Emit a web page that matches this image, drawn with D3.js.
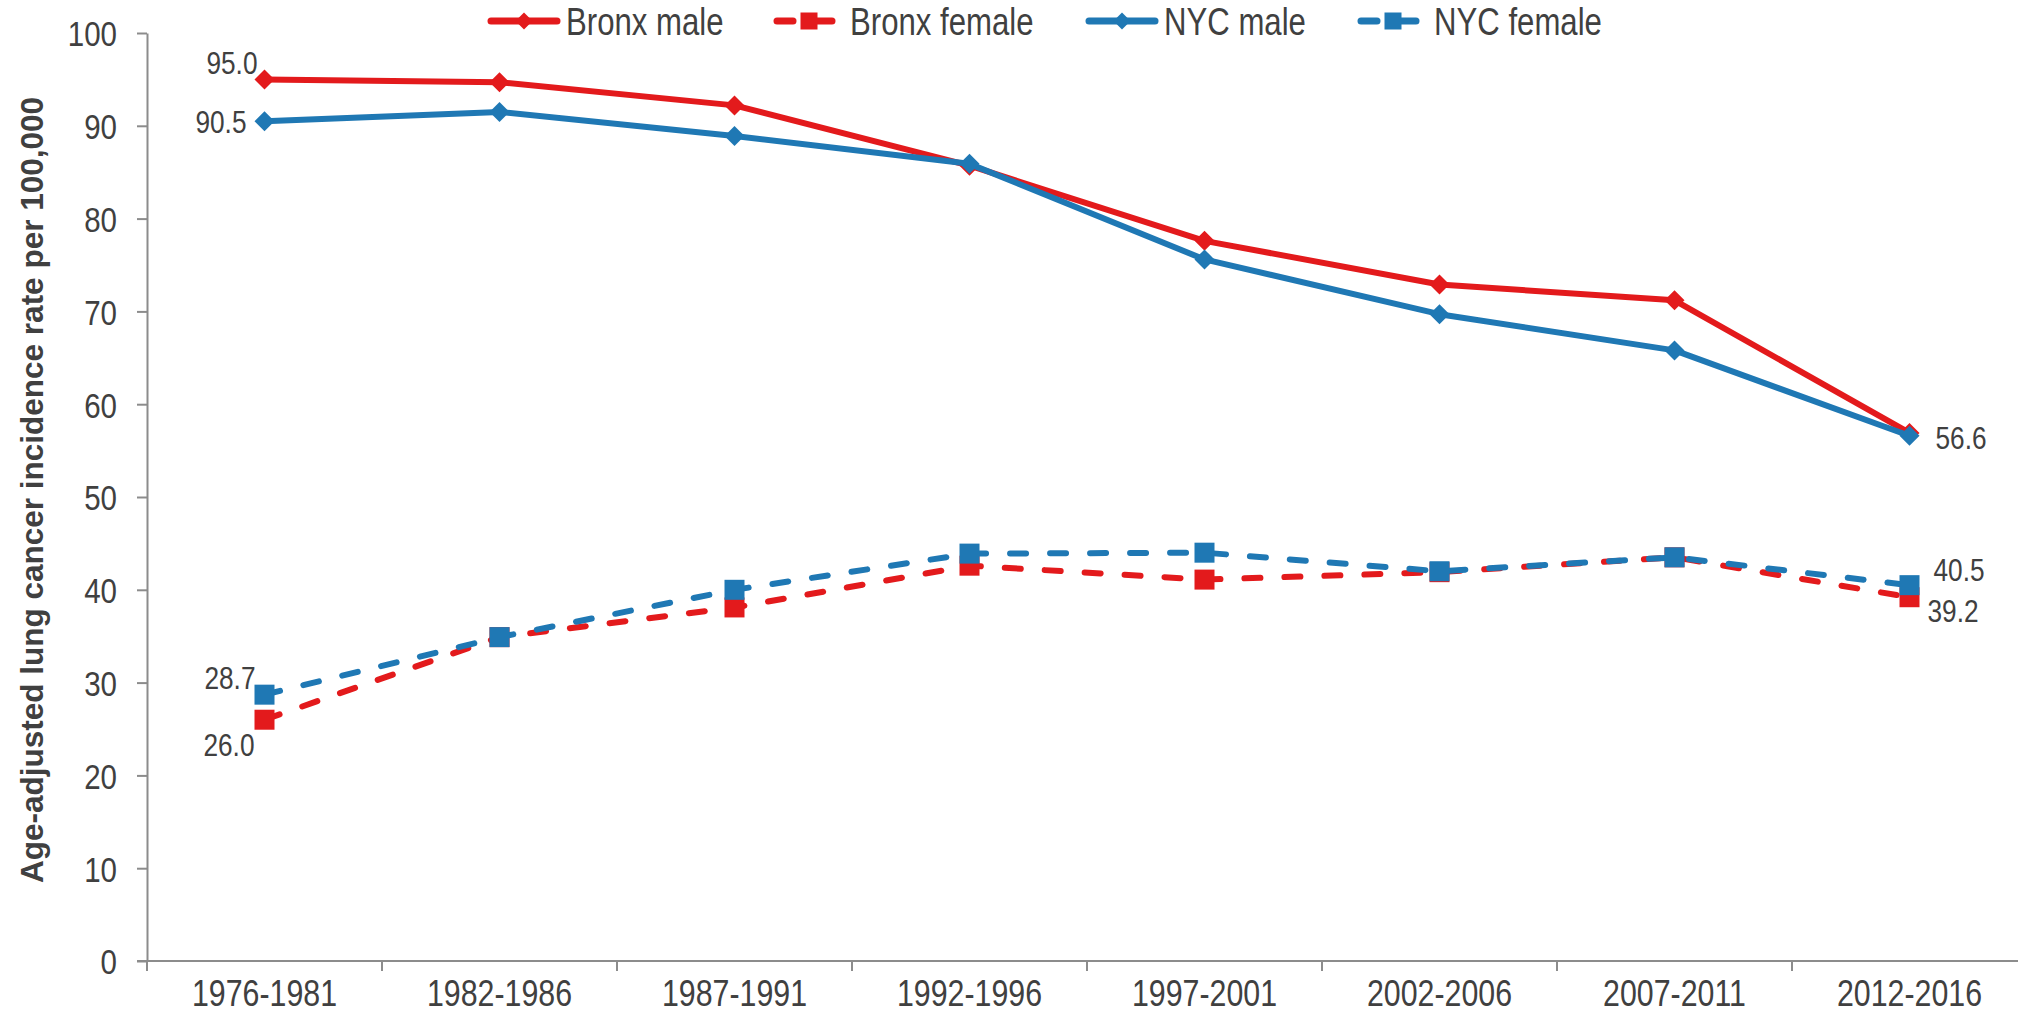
<!DOCTYPE html>
<html>
<head>
<meta charset="utf-8">
<script src="https://cdn.jsdelivr.net/npm/d3@7"></script>
<style>
  body { margin: 0; background: #fff; }
  svg { display: block; font-family: "Liberation Sans", Arial, sans-serif; }
  .axis path, .axis line { stroke: #8c8c8c; stroke-width: 2px; }
  .axis text { fill: #404040; font-family: "Liberation Sans", Arial, sans-serif; }
</style>
</head>
<body>
<svg id="chart"></svg>
<script>
const WIDTH = 2018;
const HEIGHT = 1015;

const periods = ['1976-1981', '1982-1986', '1987-1991', '1992-1996',
  '1997-2001', '2002-2006', '2007-2011', '2012-2016'];

const bronxMale = [95.0, 94.7, 92.2, 85.7, 77.6, 72.9, 71.2, 56.9];
const bronxFemale = [26.0, 34.9, 38.1, 42.6, 41.1, 41.9, 43.5, 39.2];
const nycMale = [90.5, 91.5, 88.9, 85.9, 75.6, 69.7, 65.8, 56.6];
const nycFemale = [28.7, 34.9, 40.0, 43.9, 44.0, 42.0, 43.5, 40.5];

const yTicks = [0, 10, 20, 30, 40, 50, 60, 70, 80, 90, 100];

const RED = '#e31a1c';
const BLUE = '#1f78b4';
const NARROW = 0.82; // no narrow face installed, so squeeze the regular one

const series = [
  { name: 'Bronx male', values: bronxMale, color: RED, dashed: false, marker: 'diamond' },
  { name: 'Bronx female', values: bronxFemale, color: RED, dashed: true, marker: 'square' },
  { name: 'NYC male', values: nycMale, color: BLUE, dashed: false, marker: 'diamond' },
  { name: 'NYC female', values: nycFemale, color: BLUE, dashed: true, marker: 'square' },
];

// which points get a value label, and where it sits
const pointLabels = [
  { s: 0, i: 0, anchor: 'end', dx: -7, dy: -17 },
  { s: 2, i: 0, anchor: 'end', dx: -18, dy: 0 },
  { s: 2, i: 7, anchor: 'start', dx: 26, dy: 2 },
  { s: 3, i: 0, anchor: 'end', dx: -9, dy: -17 },
  { s: 1, i: 0, anchor: 'end', dx: -10, dy: 25 },
  { s: 3, i: 7, anchor: 'start', dx: 24, dy: -16 },
  { s: 1, i: 7, anchor: 'start', dx: 18, dy: 13 },
];

const left = 147;
const bandW = 235;

function squeeze(sel) {
  sel.each(function () {
    const t = d3.select(this);
    const tx = +t.attr('x') || 0;
    const ty = +t.attr('y') || 0;
    t.attr('x', 0).attr('y', 0)
      .attr('transform', `translate(${tx},${ty}) scale(${NARROW},1)`);
  });
}

const svg = d3.select('#chart')
  .attr('width', WIDTH)
  .attr('height', HEIGHT);

const x = d3.scaleBand()
  .domain(periods)
  .range([left, left + bandW * periods.length]);

const y = d3.scaleLinear()
  .domain([0, 100])
  .range([961, 33]);

// y axis
const yAxis = svg.append('g')
  .attr('class', 'axis')
  .attr('transform', `translate(${left},0)`)
  .call(d3.axisLeft(y).tickValues(yTicks).tickSize(10).tickSizeOuter(0).tickPadding(20));
yAxis.selectAll('text')
  .attr('dy', '0.36em')
  .style('font-size', '36px')
  .call(squeeze);

// x axis: labels centred in bands, ticks on band edges
const xAxis = svg.append('g')
  .attr('class', 'axis')
  .attr('transform', `translate(0,${y(0)})`)
  .call(d3.axisBottom(x).tickSize(0).tickPadding(45));
xAxis.selectAll('text')
  .attr('dy', null)
  .style('font-size', '37px')
  .call(squeeze);
xAxis.select('.domain').attr('d', `M${left - 10},0H${WIDTH + 20}`);
xAxis.selectAll('.edge')
  .data(periods)
  .enter()
  .append('line')
  .attr('class', 'edge')
  .attr('x1', d => x(d))
  .attr('x2', d => x(d))
  .attr('y1', 0)
  .attr('y2', 10);

// y axis title
svg.append('text')
  .attr('transform', `translate(43,490) rotate(-90)`)
  .attr('text-anchor', 'middle')
  .attr('fill', '#404040')
  .style('font-size', '31.5px')
  .style('font-weight', 'bold')
  .text('Age-adjusted lung cancer incidence rate per 100,000');

const cx = i => x(periods[i]) + x.bandwidth() / 2;

const line = d3.line()
  .x((d, i) => cx(i))
  .y(d => y(d));

function drawMarker(g, type, px, py, color, size) {
  if (type === 'diamond') {
    const h = size / 2;
    g.append('path')
      .attr('d', `M${px},${py - h}L${px + h},${py}L${px},${py + h}L${px - h},${py}Z`)
      .attr('fill', color);
  } else {
    g.append('rect')
      .attr('x', px - size / 2)
      .attr('y', py - size / 2)
      .attr('width', size)
      .attr('height', size)
      .attr('fill', color);
  }
}

series.forEach(s => {
  const g = svg.append('g');
  g.append('path')
    .datum(s.values)
    .attr('d', line)
    .attr('fill', 'none')
    .attr('stroke', s.color)
    .attr('stroke-width', 6)
    .attr('stroke-linecap', 'round')
    .attr('stroke-linejoin', 'round')
    .attr('stroke-dasharray', s.dashed ? '16 24' : null);
  s.values.forEach((v, i) => {
    drawMarker(g, s.marker, cx(i), y(v), s.color, 20);
  });
});

// value labels
svg.selectAll('.vlabel')
  .data(pointLabels)
  .enter()
  .append('text')
  .attr('class', 'vlabel')
  .attr('x', d => cx(d.i) + d.dx)
  .attr('y', d => y(series[d.s].values[d.i]) + d.dy)
  .attr('dy', '0.36em')
  .attr('text-anchor', d => d.anchor)
  .attr('fill', '#404040')
  .style('font-size', '32px')
  .text(d => series[d.s].values[d.i].toFixed(1))
  .call(squeeze);

// legend
const legendX = [488, 773, 1086, 1357];
const legendY = 21;
series.forEach((s, k) => {
  const g = svg.append('g').attr('transform', `translate(${legendX[k]},${legendY})`);
  if (s.dashed) {
    g.append('line').attr('x1', 4).attr('x2', 20).attr('y1', 0).attr('y2', 0);
    g.append('line').attr('x1', 44).attr('x2', 59).attr('y1', 0).attr('y2', 0);
  } else {
    g.append('line').attr('x1', 3).attr('x2', 69).attr('y1', 0).attr('y2', 0);
  }
  g.selectAll('line')
    .attr('stroke', s.color)
    .attr('stroke-width', 7)
    .attr('stroke-linecap', 'round');
  drawMarker(g, s.marker, 36, 0, s.color, 17);
  g.append('text')
    .attr('x', s.dashed ? 77 : 78)
    .attr('y', 0)
    .attr('dy', '0.36em')
    .attr('fill', '#404040')
    .style('font-size', '38px')
    .text(s.name)
    .call(squeeze);
});
</script>
</body>
</html>
